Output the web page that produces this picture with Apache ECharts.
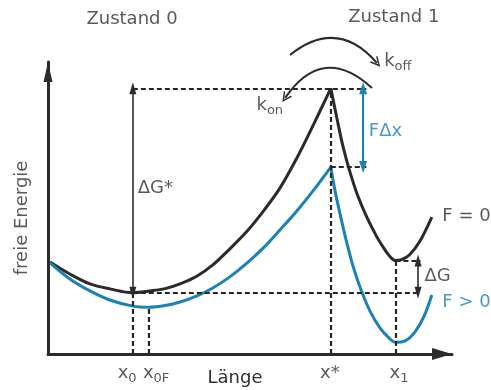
<!DOCTYPE html>
<html>
<head>
<meta charset="utf-8">
<script src="https://cdn.jsdelivr.net/npm/echarts@6/dist/echarts.min.js"></script>
<style>
html, body { margin: 0; padding: 0; background: #fff; }
#chart { width: 491px; height: 390px; }
</style>
</head>
<body>
<div id="chart"></div>
<script>
// Free-energy landscape along the extension coordinate (arbitrary units 0–100).
// Each curve is split at the barrier x* so the transition state stays a sharp cusp.

// F = 0, bound state side (x ≤ x*)
const xF0Left = [0.5, 5.4, 10.4, 15.3, 21, 25.2, 29, 32.7, 36.9, 40.8, 45, 49.3, 53.5, 57.4, 61.6, 65.8, 70];
const gF0Left = [31.5, 27.4, 24.0, 22.3, 21, 21.6, 22.4, 24.0, 26.7, 30.5, 36.0, 42.1, 49.3, 56.8, 67.1, 78.8, 91];
// F = 0, unbound state side (x ≥ x*)
const xF0Right = [70, 71.5, 73, 74.75, 76.7, 79, 81.4, 82.5, 84.5, 86, 87.5, 89.5, 92, 95];
const gF0Right = [91, 80.8, 71.2, 62.3, 54.1, 46.6, 40.1, 37.6, 33.6, 32, 32.3, 34.0, 38.5, 46.9];

// F > 0, tilted landscape
const xFpLeft = [0.5, 5.4, 10.4, 15.3, 21, 25, 29, 32.7, 36.9, 40.8, 45, 49.3, 53.5, 57.4, 61.6, 65.8, 70];
const gFpLeft = [31.2, 25.7, 21.6, 18.5, 16.4, 16, 16.6, 17.8, 19.9, 22.6, 26.4, 31.2, 36.6, 42.5, 49.0, 56.2, 64];
const xFpRight = [70, 71.0, 72.3, 73.8, 75.5, 77.5, 79.7, 82.2, 84.7, 86, 88.4, 90.8, 93.1, 95];
const gFpRight = [64, 56.2, 47.9, 39.0, 30.1, 21.9, 14.7, 8.9, 5.1, 4, 4.5, 7.5, 13.0, 20.2];

// Characteristic positions and levels
const xMarks = [21, 25, 70, 86];              // x0, x0F, x*, x1
const xMarkLabels = ['{n|x}{s|0}', '{n|x}{s|0F}', '{n|x*}{s| }', '{n|x}{s|1}'];
const g0 = 21;        // G(x0), F = 0
const gBarrier = 91;  // G(x*), F = 0
const gBarrierF = 64; // G(x*), F > 0
const g1 = 32;        // G(x1), F = 0
const g0F = 16;       // G(x0F), F > 0

const xX0 = xMarks[0], xX0F = xMarks[1], xStar = xMarks[2], xX1 = xMarks[3];

const INK = '#2b2b2b';
const TXT = '#2f2f2f';
const BLUE = '#1b82b5';
const FONT = 'DejaVu Sans';
const FS = 18;

const zip = (xs, ys) => xs.map((x, i) => [x, ys[i]]);

const dashStyle = { type: [5, 3], width: 2.2, color: '#262626' };
const vHead = 'path://M0,10 L5,0 L10,10 L8.4,10 L5,3.2 L1.6,10 Z';

const rich = {
  n: { fontFamily: FONT, fontSize: FS, color: TXT },
  s: { fontFamily: FONT, fontSize: 13, color: TXT, padding: [10, 0, 0, 0] },
  b: { fontFamily: FONT, fontSize: FS, color: BLUE }
};

// Text annotations anchored in data coordinates; tick labels sit just below the axis
const notes = [
  { at: [19.6, -6.6], text: xMarkLabels[0], pos: 'inside' },
  { at: [23.5, -6.6], text: xMarkLabels[1], pos: 'right' },
  { at: [70.3, -6.6], text: xMarkLabels[2], pos: 'inside' },
  { at: [86.9, -6.6], text: xMarkLabels[3], pos: 'inside' },
  { at: [20.8, 114.6], text: '{n|Zustand 0}', pos: 'inside' },
  { at: [85.6, 115.3], text: '{n|Zustand 1}', pos: 'inside' },
  { at: [83.2, 100.2], text: '{n|k}{s|off}', pos: 'right' },
  { at: [51.6, 85.2], text: '{n|k}{s|on}', pos: 'right' },
  { at: [79.4, 76.4], text: '{b|FΔx}', pos: 'right' },
  { at: [22.2, 56.8], text: '{n|ΔG*}', pos: 'right' },
  { at: [93.2, 26.6], text: '{n|ΔG}', pos: 'right' },
  { at: [97.6, 47.2], text: '{n|F = 0}', pos: 'right' },
  { at: [97.6, 17.8], text: '{b|F > 0}', pos: 'right' },
  { at: [-6.4, 46.6], text: '{n|freie Energie}', pos: 'inside', rotate: 90 }
];

const chart = echarts.init(document.getElementById('chart'), null, { renderer: 'canvas' });

const curve = (name, data, color, extra) => Object.assign({
  name, type: 'line', data, smooth: 0.35, symbol: 'none', silent: true,
  lineStyle: { color, width: 3 }, z: 3, clip: false
}, extra || {});

const option = {
  animation: false,
  backgroundColor: '#fff',
  grid: { left: 48, right: 39, top: 62, bottom: 36, outerBoundsMode: 'none', containLabel: false },
  xAxis: {
    type: 'value', min: 0, max: 100,
    name: 'Länge', nameLocation: 'middle', nameGap: 15, nameMoveOverlap: false,
    nameTextStyle: { fontFamily: FONT, fontSize: FS, color: TXT, padding: [0, 30, 0, 0] },
    axisLine: { show: true, lineStyle: { color: INK, width: 3 }, symbol: ['none', 'triangle'], symbolSize: [12, 20], symbolOffset: [0, -10] },
    axisTick: { show: false },
    splitLine: { show: false },
    axisLabel: { show: false }
  },
  yAxis: {
    type: 'value', min: 0, max: 100,
    axisLine: { show: true, lineStyle: { color: INK, width: 3 }, symbol: ['none', 'triangle'], symbolSize: [9, 20], symbolOffset: [0, -10] },
    axisTick: { show: false },
    splitLine: { show: false },
    axisLabel: { show: false }
  },
  series: [
    curve('F = 0 (links)', zip(xF0Left, gF0Left), INK, {
      markLine: {
        silent: true, symbol: 'none', label: { show: false }, lineStyle: dashStyle,
        data: [
          [{ coord: [xX0, gBarrier] }, { coord: [78.8, gBarrier] }],
          [{ coord: [xStar, 0] }, { coord: [xStar, gBarrier] }],
          [{ coord: [xX0, 0] }, { coord: [xX0, g0] }],
          [{ coord: [xX0F, 0] }, { coord: [xX0F, g0F] }],
          [{ coord: [xX1, 0] }, { coord: [xX1, g1] }],
          [{ coord: [xX0, g0] }, { coord: [92.2, g0] }],
          [{ coord: [xX1, g1] }, { coord: [92.2, g1] }],
          [{ coord: [xStar, gBarrierF] }, { coord: [78.8, gBarrierF] }]
        ]
      }
    }),
    curve('F = 0 (rechts)', zip(xF0Right, gF0Right), INK, {
      markLine: {
        silent: true, symbol: ['triangle', 'triangle'], symbolSize: [7, 12], label: { show: false },
        lineStyle: { type: 'solid', width: 1.6, color: INK },
        data: [
          [{ coord: [xX0, g0] }, { coord: [xX0, gBarrier] }],
          [{ coord: [91.6, g0] }, { coord: [91.6, g1] }]
        ]
      }
    }),
    curve('F > 0 (links)', zip(xFpLeft, gFpLeft), BLUE),
    curve('F > 0 (rechts)', zip(xFpRight, gFpRight), BLUE, {
      markLine: {
        silent: true, symbol: ['triangle', 'triangle'], symbolSize: [8, 12], label: { show: false },
        lineStyle: { type: 'solid', width: 2, color: BLUE },
        data: [
          [{ coord: [78, gBarrierF] }, { coord: [78, gBarrier] }]
        ]
      }
    }),
    {
      name: 'Übergänge', type: 'lines', coordinateSystem: 'cartesian2d', silent: true, z: 4, clip: false,
      symbol: ['none', vHead], symbolSize: [11, 10],
      lineStyle: { color: INK, width: 2, opacity: 1 },
      data: [
        { coords: [[59.9, 102.4], [81.4, 99.7]], lineStyle: { curveness: 0.48 } },
        { coords: [[80.2, 91.1], [58.7, 87.7]], lineStyle: { curveness: -0.575 } }
      ]
    },
    {
      name: 'Beschriftung', type: 'scatter', silent: true, clip: false, symbolSize: 0, z: 5,
      labelLayout: { hideOverlap: false },
      data: notes.map(n => ({
        value: n.at,
        label: { show: true, position: n.pos, distance: 0, rotate: n.rotate || 0, formatter: n.text, rich }
      }))
    }
  ]
};

chart.setOption(option);
</script>
</body>
</html>
